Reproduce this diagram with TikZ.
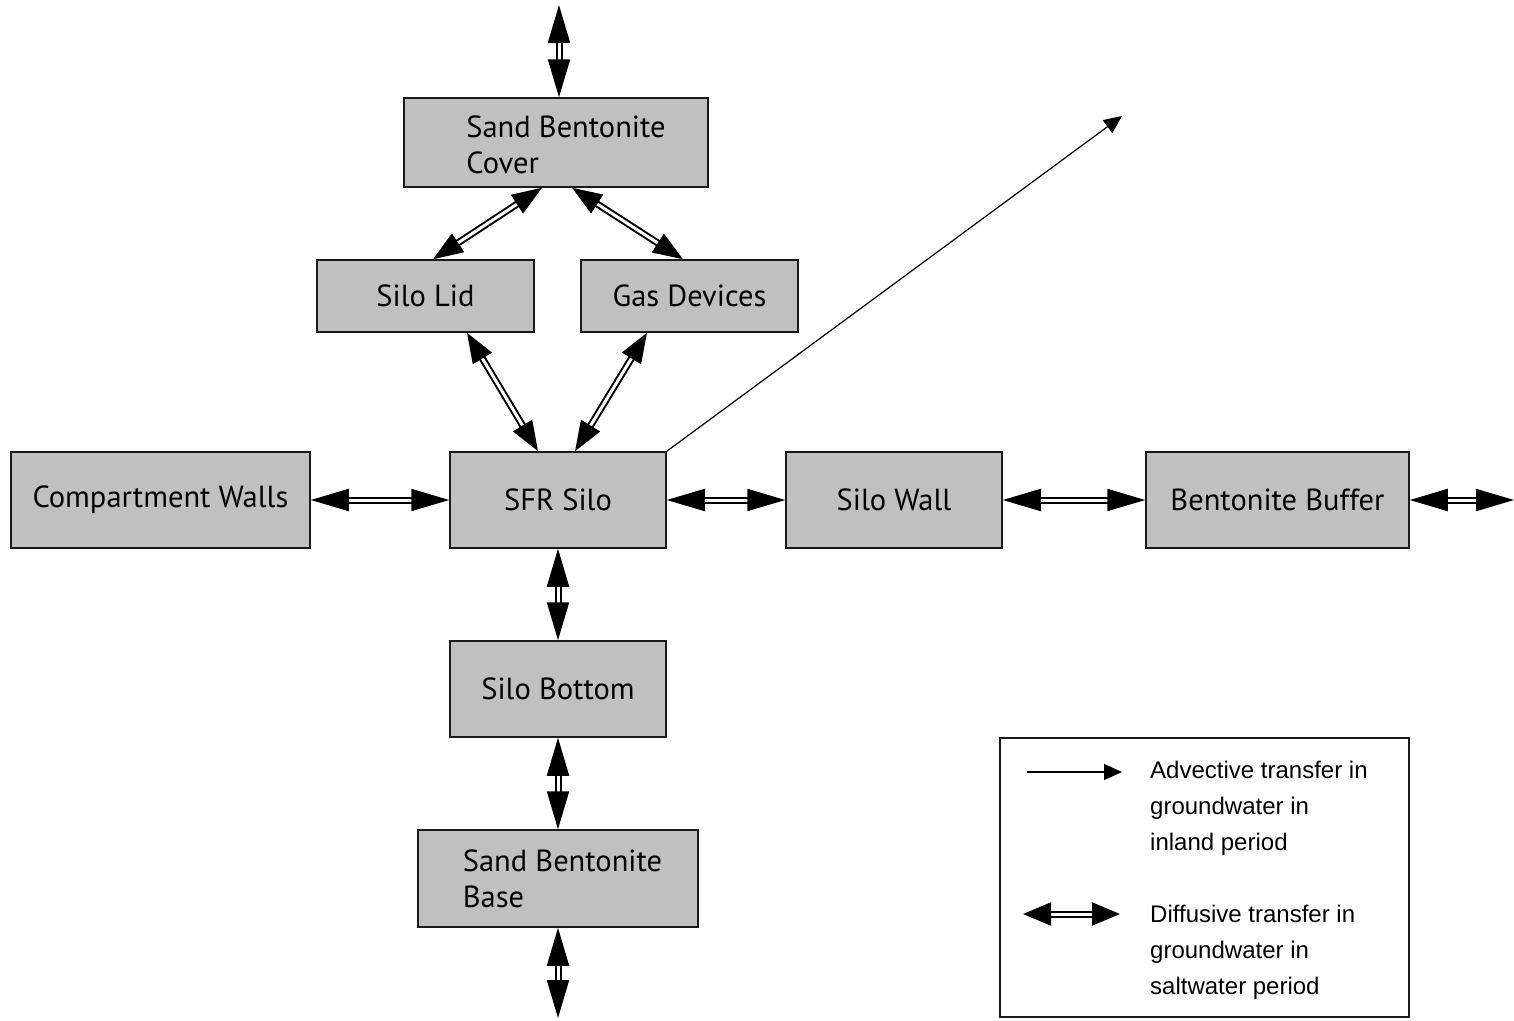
\documentclass[tikz,border=0pt]{standalone}
\usepackage{fontspec}
\setmainfont{PT Sans}
\newfontfamily\legendfont{Liberation Sans}
\usetikzlibrary{arrows.meta}
\definecolor{boxgray}{HTML}{C0C0C0}
\definecolor{edge}{HTML}{1A1A1A}
% two-line box label, left aligned, padded and lowered a little
\newcommand{\twoline}[4]{\raisebox{-#2}[\height][\depth]{%
  \begin{tabular}{@{\hspace{#1}}l@{}}#3\\[-1pt]#4\end{tabular}}}
\tikzset{
  box/.style={draw=edge, line width=1.5pt, fill=boxgray, inner sep=0pt,
    font=\fontsize{30.5}{37}\selectfont},
  diff/.style={double=white, double distance=3pt, line width=2pt,
    {Triangle[length=38pt,width=22pt]}-{Triangle[length=38pt,width=22pt]}},
  diffslant/.style={double=white, double distance=3pt, line width=2pt,
    {Triangle[length=30pt,width=22pt]}-{Triangle[length=30pt,width=22pt]}},
  diffkey/.style={double=white, double distance=3pt, line width=2pt,
    {Triangle[length=28pt,width=23pt]}-{Triangle[length=28pt,width=23pt]}},
  adv/.style={line width=1.2pt, -{Triangle[length=18pt,width=16pt]}},
  legtext/.style={font=\legendfont\fontsize{24}{36}\selectfont, align=left,
    inner sep=0pt, anchor=north west},
}
\begin{document}
\begin{tikzpicture}[x=1pt,y=-1pt]
\useasboundingbox (0,0) rectangle (1514,1020);

% compartments
\node[box, minimum width=304pt, minimum height=89pt] (cover) at (556,142.5)
  {\twoline{20pt}{6pt}{Sand Bentonite}{Cover}};
\node[box, minimum width=217pt, minimum height=72pt] (lid) at (425.5,296) {Silo Lid};
\node[box, minimum width=217pt, minimum height=72pt] (gas) at (689.5,296) {Gas Devices};
\node[box, minimum width=299pt, minimum height=96pt] (comp) at (160.5,500) {Compartment Walls};
\node[box, minimum width=216pt, minimum height=96pt] (sfr) at (558,500) {SFR Silo};
\node[box, minimum width=216pt, minimum height=96pt] (wall) at (894,500) {Silo Wall};
\node[box, minimum width=263pt, minimum height=96pt] (buffer) at (1277.5,500) {Bentonite Buffer};
\node[box, minimum width=216pt, minimum height=96pt] (bottom) at (558,689) {Silo Bottom};
\node[box, minimum width=280pt, minimum height=97pt] (base) at (558,878.5)
  {\twoline{9pt}{4pt}{Sand Bentonite}{Base}};

% free ends
\coordinate (top) at (559,5);
\coordinate (right) at (1514,500);
\coordinate (down) at (558,1018);
\coordinate (far) at (1122,116);

% diffusive transfer
\draw[diff] (top) -- ([xshift=3pt]cover.north);
\draw[diffslant] ([xshift=-14pt]cover.south) -- ([xshift=7.5pt]lid.north);
\draw[diffslant] ([xshift=16pt]cover.south) -- ([xshift=-6.5pt]gas.north);
\draw[diffslant] ([xshift=41.5pt]lid.south) -- ([xshift=-20pt]sfr.north);
\draw[diffslant] ([xshift=-42.5pt]gas.south) -- ([xshift=17pt]sfr.north);
\draw[diff] (comp.east) -- (sfr.west);
\draw[diff] (sfr.east) -- (wall.west);
\draw[diff] (wall.east) -- (buffer.west);
\draw[diff] (buffer.east) -- (right);
\draw[diff] (sfr.south) -- (bottom.north);
\draw[diff] (bottom.south) -- (base.north);
\draw[diff] (base.south) -- (down);

% advective transfer
\draw[adv] (sfr.north east) -- (far);

% key
\node[draw=edge, line width=1.5pt, fill=white, minimum width=409pt, minimum height=279pt,
  inner sep=0pt] (key) at (1204.5,877.5) {};
\coordinate (advA) at (1027,772);
\coordinate (advB) at (1122,772);
\coordinate (difA) at (1023,914);
\coordinate (difB) at (1120,914);
\draw[adv] (advA) -- (advB);
\draw[diffkey] (difA) -- (difB);
\node[legtext] (advtext) at (1150,761) {Advective transfer in\\groundwater in\\inland period};
\node[legtext] (diftext) at (1150,905) {Diffusive transfer in\\groundwater in\\saltwater period};
\end{tikzpicture}
\end{document}
